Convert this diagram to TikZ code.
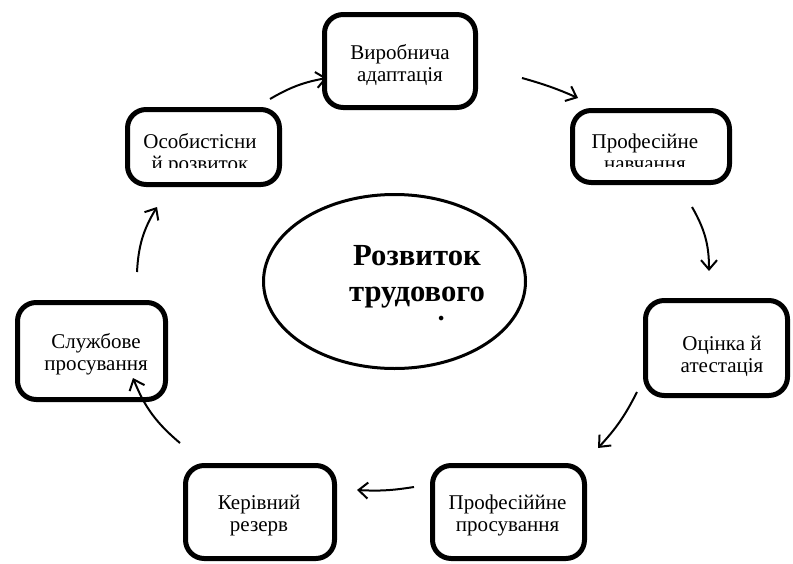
\documentclass[tikz,border=0pt]{standalone}
\usepackage{fontspec}
\setmainfont{Liberation Serif}
\usetikzlibrary{arrows.meta,shapes.geometric}

\tikzset{
  box/.style={draw, rectangle, line width=3.75pt, rounded corners=14pt, inner sep=0pt},
  lbl/.style={align=center, inner sep=0pt, anchor=base, font=\fontsize{15.75}{16.5}\selectfont},
  arr/.style={-{Straight Barb[length=7pt,width=12pt]}, line width=1.5pt},
}

\begin{document}
\begin{tikzpicture}[x=0.75pt, y=-0.75pt]
        \useasboundingbox (0,0) rectangle (793,564);

        % Stages round the circle
        \node[box, minimum width=113.25pt, minimum height=69.75pt] (vyrob) at (400,61) {};
        \node[box, minimum width=117.75pt, minimum height=54pt] (navch) at (651,146.5) {};
        \node[box, minimum width=106.5pt, minimum height=71.25pt] (otsin) at (716.5,348) {};
        \node[box, minimum width=114pt, minimum height=69.75pt] (prosuv) at (508.5,512) {};
        \node[box, minimum width=111.75pt, minimum height=69.75pt] (kerivn) at (260,512) {};
        \node[box, minimum width=111pt, minimum height=72.75pt] (sluzh) at (91.5,351) {};
        \node[box, minimum width=114pt, minimum height=56.25pt] (osob) at (203.5,147) {};

        % Centre
        \node[draw, ellipse, line width=2.25pt, inner sep=0pt, minimum width=196.5pt, minimum height=130.5pt] (centre) at (394.5,281.5) {};

        % Texts (anchored at the last line's baseline)
        \node[lbl] (vyrob-t) at (400,81) {Виробнича\\адаптація};
        \node[lbl] (otsin-t) at (722,372) {Оцінка й\\атестація};
        \node[lbl] (prosuv-t) at (507.5,531) {Професіййне\\просування};
        \node[lbl] (kerivn-t) at (259,531) {Керівний\\резерв};
        \node[lbl] (sluzh-t) at (96,370) {Службове\\просування};
        \begin{scope}
          \clip (575,115) rectangle (727,166);
          \node[lbl] (navch-t) at (645,170) {Професійне\\навчання};
        \end{scope}
        \begin{scope}
          \clip (130,112) rectangle (277,167);
          \node[lbl] (osob-t) at (200,170) {Особистісни\\й розвиток};
        \end{scope}
        \begin{scope}
          \clip (280,200) rectangle (520,320);
          \node[lbl, font=\fontsize{23}{27}\selectfont\bfseries] (centre-t) at (417,337) {Розвиток\\трудового\\потенціалу};
        \end{scope}

        % Arrow ends
        \coordinate (s1) at (270,99);  \coordinate (t1) at (327,78);
        \coordinate (s2) at (522,78);  \coordinate (t2) at (578,98);
        \coordinate (s3) at (692,207); \coordinate (t3) at (709,271);
        \coordinate (s4) at (637,392); \coordinate (t4) at (598,448);
        \coordinate (s5) at (414,487); \coordinate (t5) at (357,490);
        \coordinate (s6) at (180,443); \coordinate (t6) at (133,378);
        \coordinate (s7) at (137,272); \coordinate (t7) at (157,207);

        % Arrows
        \draw[arr] (s1) to[bend left=10] (t1);
        \draw[arr] (s2) to[bend left=4] (t2);
        \draw[arr] (s3) to[bend left=15] (t3);
        \draw[arr] (s4) to[bend left=8] (t4);
        \draw[arr] (s5) to[bend left=6] (t5);
        \draw[arr] (s6) to[bend left=14] (t6);
        \draw[arr] (s7) to[bend left=14] (t7);
    \end{tikzpicture}
\end{document}
